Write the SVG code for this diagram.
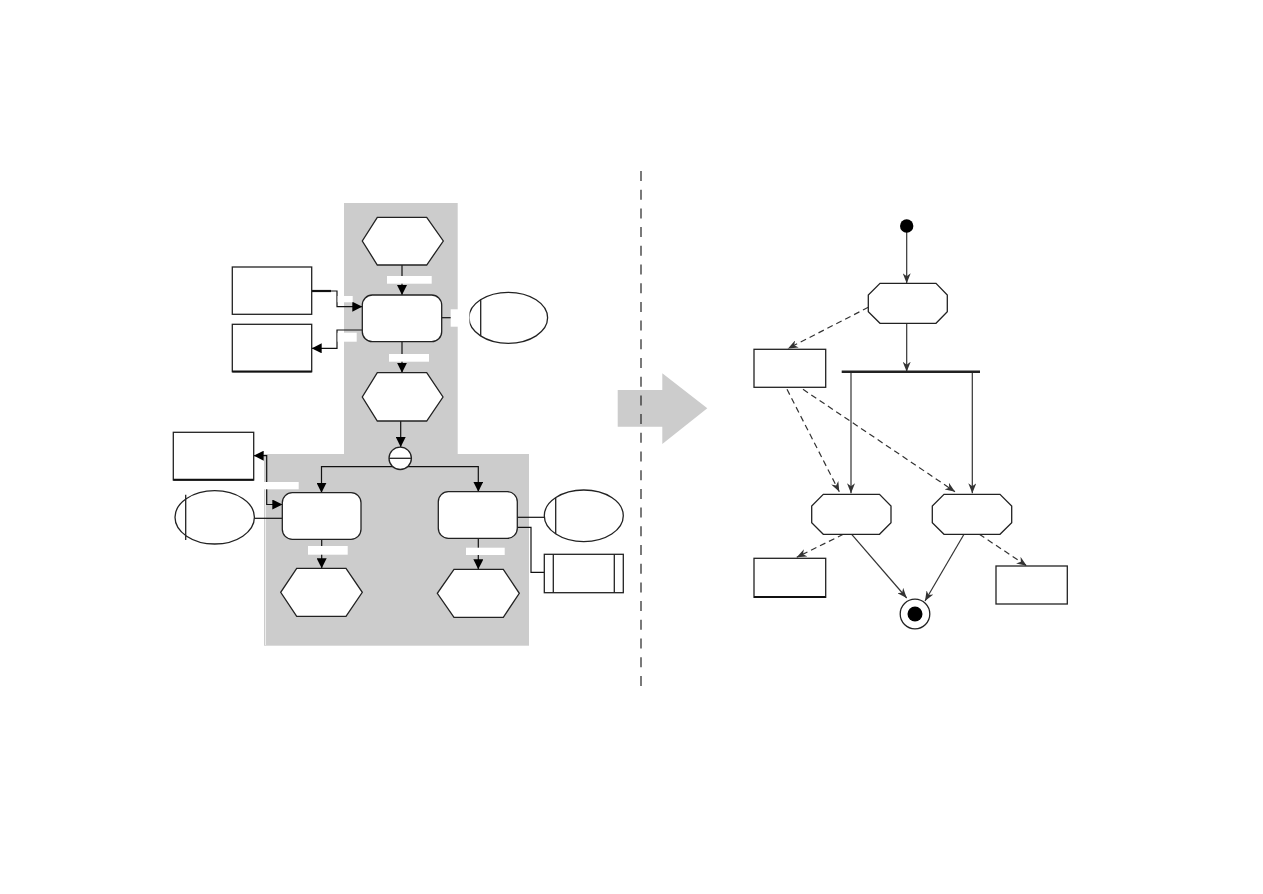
<svg xmlns="http://www.w3.org/2000/svg" width="1263" height="894" viewBox="0 0 1263 894">
  <style>
    .shape { fill: #ffffff; stroke: #222222; stroke-width: 1.3; }
    .conn { fill: none; stroke: #111111; stroke-width: 1.2; }
    .lbl { fill: #ffffff; stroke: none; }
    .uml { fill: none; stroke: #333333; stroke-width: 1.2; }
    .dash { stroke-dasharray: 6 4; }
    .gray { fill: #cccccc; stroke: none; }
  </style>
  <defs>
    <marker id="tri" viewBox="0 0 10 10" refX="10" refY="5" markerWidth="10" markerHeight="10" markerUnits="userSpaceOnUse" orient="auto-start-reverse">
      <path d="M0,0 L10,5 L0,10 z" fill="#000000"/>
    </marker>
    <marker id="vee" viewBox="0 0 10 8" refX="10" refY="4" markerWidth="10" markerHeight="8" markerUnits="userSpaceOnUse" orient="auto">
      <path d="M0,0 L10,4 L0,8 L3,4 z" fill="#333333"/>
    </marker>
  </defs>
  <rect width="1263" height="894" fill="#ffffff"/>

  <!-- left: grey background regions -->
  <g id="background">
    <rect class="gray" x="344" y="203" width="113.7" height="252"/>
    <rect class="gray" x="264" y="454" width="265" height="191.7"/>
    <line x1="265.5" y1="489" x2="265.5" y2="645" stroke="#eeeeee" stroke-width="1"/>
  </g>

  <!-- left connectors -->
  <g id="connectors-left">
    <path class="conn" d="M402,265 V295" marker-end="url(#tri)"/>
    <path class="conn" d="M402,341.7 V372.7" marker-end="url(#tri)"/>
    <path class="conn" d="M400.7,421 V447" marker-end="url(#tri)"/>
    <path class="conn" d="M321.5,492.7 V466.7 H478.3 V491.7" marker-start="url(#tri)" marker-end="url(#tri)"/>
    <path class="conn" d="M321.7,539.3 V568.3" marker-end="url(#tri)"/>
    <path class="conn" d="M478.3,538.3 V569.3" marker-end="url(#tri)"/>
    <path class="conn" d="M311.7,291 H337 V306.7 H362.3" marker-end="url(#tri)"/>
    <path d="M311.7,291 H331" stroke="#111" stroke-width="2.2" fill="none"/>
    <path class="conn" d="M362.3,330 H337 V348.3 H311.7" marker-end="url(#tri)"/>
    <path class="conn" d="M441.7,317.7 H469"/>
    <path class="conn" d="M253.7,455.7 H266.7 V504.5 H282.3" marker-start="url(#tri)" marker-end="url(#tri)"/>
    <path class="conn" d="M254.3,518.3 H282.3"/>
    <path class="conn" d="M517.3,517.3 H544.3"/>
    <path class="conn" d="M517.3,527.3 H531 V572.3 H544.3"/>
    <!-- label backgrounds -->
    <rect class="lbl" x="387" y="276" width="44.7" height="7.7"/>
    <rect class="lbl" x="389" y="354" width="40" height="7.7"/>
    <rect class="lbl" x="337.6" y="296" width="15.1" height="6.3"/>
    <rect class="lbl" x="337.6" y="332.7" width="19.1" height="9"/>
    <rect class="lbl" x="450.7" y="309.3" width="18.3" height="17.4"/>
    <rect class="lbl" x="263.3" y="482" width="35.4" height="7.3"/>
    <rect class="lbl" x="308" y="546" width="39.7" height="8.7"/>
    <rect class="lbl" x="466" y="547.7" width="38.7" height="7.3"/>
  </g>

  <!-- left nodes -->
  <g id="hex1"><polygon class="shape" points="377.3,217.3 426.7,217.3 443.3,241 426.7,265 377.3,265 362.3,241"/></g>
  <g id="func1"><rect class="shape" x="362.3" y="295" width="79.4" height="46.7" rx="10" ry="10"/></g>
  <g id="hex2"><polygon class="shape" points="377.3,372.7 426.7,372.7 443,397 426.7,421 377.3,421 362.3,397"/></g>
  <g id="xor">
    <circle class="shape" cx="400.2" cy="458.3" r="11.2"/>
    <line x1="389" y1="458.3" x2="411.4" y2="458.3" stroke="#222" stroke-width="1.3"/>
  </g>
  <g id="func2"><rect class="shape" x="282.3" y="492.7" width="78.7" height="46.6" rx="10" ry="10"/></g>
  <g id="func3"><rect class="shape" x="438.3" y="491.7" width="79" height="46.6" rx="10" ry="10"/></g>
  <g id="hex3"><polygon class="shape" points="296.7,568.3 346,568.3 362.3,592.3 346,616.3 296.7,616.3 280.7,592.3"/></g>
  <g id="hex4"><polygon class="shape" points="454,569.3 503.3,569.3 519.3,593.3 503.3,617.3 454,617.3 437.3,593.3"/></g>
  <g id="info1"><rect class="shape" x="232.3" y="267" width="79.4" height="47.3"/></g>
  <g id="info2">
    <rect class="shape" x="232.3" y="324.3" width="79.4" height="47.4"/>
    <line x1="232.3" y1="371.5" x2="311.7" y2="371.5" stroke="#111" stroke-width="2"/>
  </g>
  <g id="info3">
    <rect class="shape" x="173.3" y="432.3" width="80.4" height="47.7"/>
    <line x1="173.3" y1="479.8" x2="253.7" y2="479.8" stroke="#111" stroke-width="2"/>
  </g>
  <g id="org1">
    <ellipse class="shape" cx="508.3" cy="317.8" rx="39.3" ry="25.5"/>
    <line x1="480.7" y1="299.6" x2="480.7" y2="336" stroke="#222" stroke-width="1.3"/>
    <rect class="lbl" x="463" y="309.3" width="6.5" height="17.4"/>
  </g>
  <g id="org2">
    <ellipse class="shape" cx="214.7" cy="517.3" rx="39.7" ry="26.7"/>
    <line x1="185.7" y1="494.7" x2="185.7" y2="539.9" stroke="#222" stroke-width="1.3"/>
  </g>
  <g id="org3">
    <ellipse class="shape" cx="583.8" cy="515.8" rx="39.5" ry="25.8"/>
    <line x1="555.7" y1="497.7" x2="555.7" y2="533.9" stroke="#222" stroke-width="1.3"/>
  </g>
  <g id="system1">
    <rect class="shape" x="544.3" y="554.3" width="79" height="38.4"/>
    <line x1="553.3" y1="554.3" x2="553.3" y2="592.7" stroke="#222" stroke-width="1.3"/>
    <line x1="614.3" y1="554.3" x2="614.3" y2="592.7" stroke="#222" stroke-width="1.3"/>
  </g>

  <!-- middle: transformation arrow and separator -->
  <g id="transform-arrow">
    <polygon points="617.7,390 662.3,390 662.3,373.3 707.3,408.3 662.3,444 662.3,426.7 617.7,426.7" fill="#cccccc"/>
  </g>
  <g id="separator">
    <line x1="641" y1="171" x2="641" y2="689" stroke="#222" stroke-width="1.2" stroke-dasharray="10 8.7"/>
  </g>

  <!-- right connectors -->
  <g id="connectors-right">
    <path class="uml" d="M906.7,232 V283.3" marker-end="url(#vee)"/>
    <path class="uml" d="M906.7,323.3 V371.7" marker-end="url(#vee)"/>
    <path class="uml" d="M851,371.7 V493.3" marker-end="url(#vee)"/>
    <path class="uml" d="M972.3,371.7 V493.3" stroke-width="2" marker-end="url(#vee)"/>
    <path class="uml" d="M851.7,534.3 L906.7,598" marker-end="url(#vee)"/>
    <path class="uml" d="M964,534.3 L925,601" marker-end="url(#vee)"/>
    <path class="uml dash" d="M868.3,307.3 L788,348.5" marker-end="url(#vee)"/>
    <path class="uml dash" d="M787,389.3 L839.3,491.7" marker-end="url(#vee)"/>
    <path class="uml dash" d="M803,389.3 L955,491.7" marker-end="url(#vee)"/>
    <path class="uml dash" d="M843.3,534.3 L796.7,557.3" marker-end="url(#vee)"/>
    <path class="uml dash" d="M979.3,534.3 L1026.7,565.7" marker-end="url(#vee)"/>
  </g>

  <!-- right nodes -->
  <g id="start"><circle cx="906.7" cy="226" r="6.7" fill="#000"/></g>
  <g id="act1"><polygon class="shape" points="880,283.3 936,283.3 947.3,295 947.3,311.8 936,323.3 880,323.3 868.3,311.8 868.3,295"/></g>
  <g id="fork"><line x1="841.7" y1="371.7" x2="980" y2="371.7" stroke="#222" stroke-width="2.5"/></g>
  <g id="act2"><polygon class="shape" points="823.3,494.3 879.5,494.3 891,506 891,522.7 879.5,534.3 823.3,534.3 811.7,522.7 811.7,506"/></g>
  <g id="act3"><polygon class="shape" points="944,494.3 1000,494.3 1011.7,506 1011.7,522.7 1000,534.3 944,534.3 932.3,522.7 932.3,506"/></g>
  <g id="obj1"><rect class="shape" x="754" y="349.3" width="71.7" height="38"/></g>
  <g id="obj2">
    <rect class="shape" x="754" y="558.3" width="71.7" height="39"/>
    <line x1="754" y1="597" x2="825.7" y2="597" stroke="#111" stroke-width="2"/>
  </g>
  <g id="obj3"><rect class="shape" x="996" y="566" width="71.3" height="38"/></g>
  <g id="end">
    <circle cx="915" cy="614" r="14.8" fill="#fff" stroke="#222" stroke-width="1.3"/>
    <circle cx="915" cy="614" r="7.5" fill="#000"/>
  </g>
</svg>
